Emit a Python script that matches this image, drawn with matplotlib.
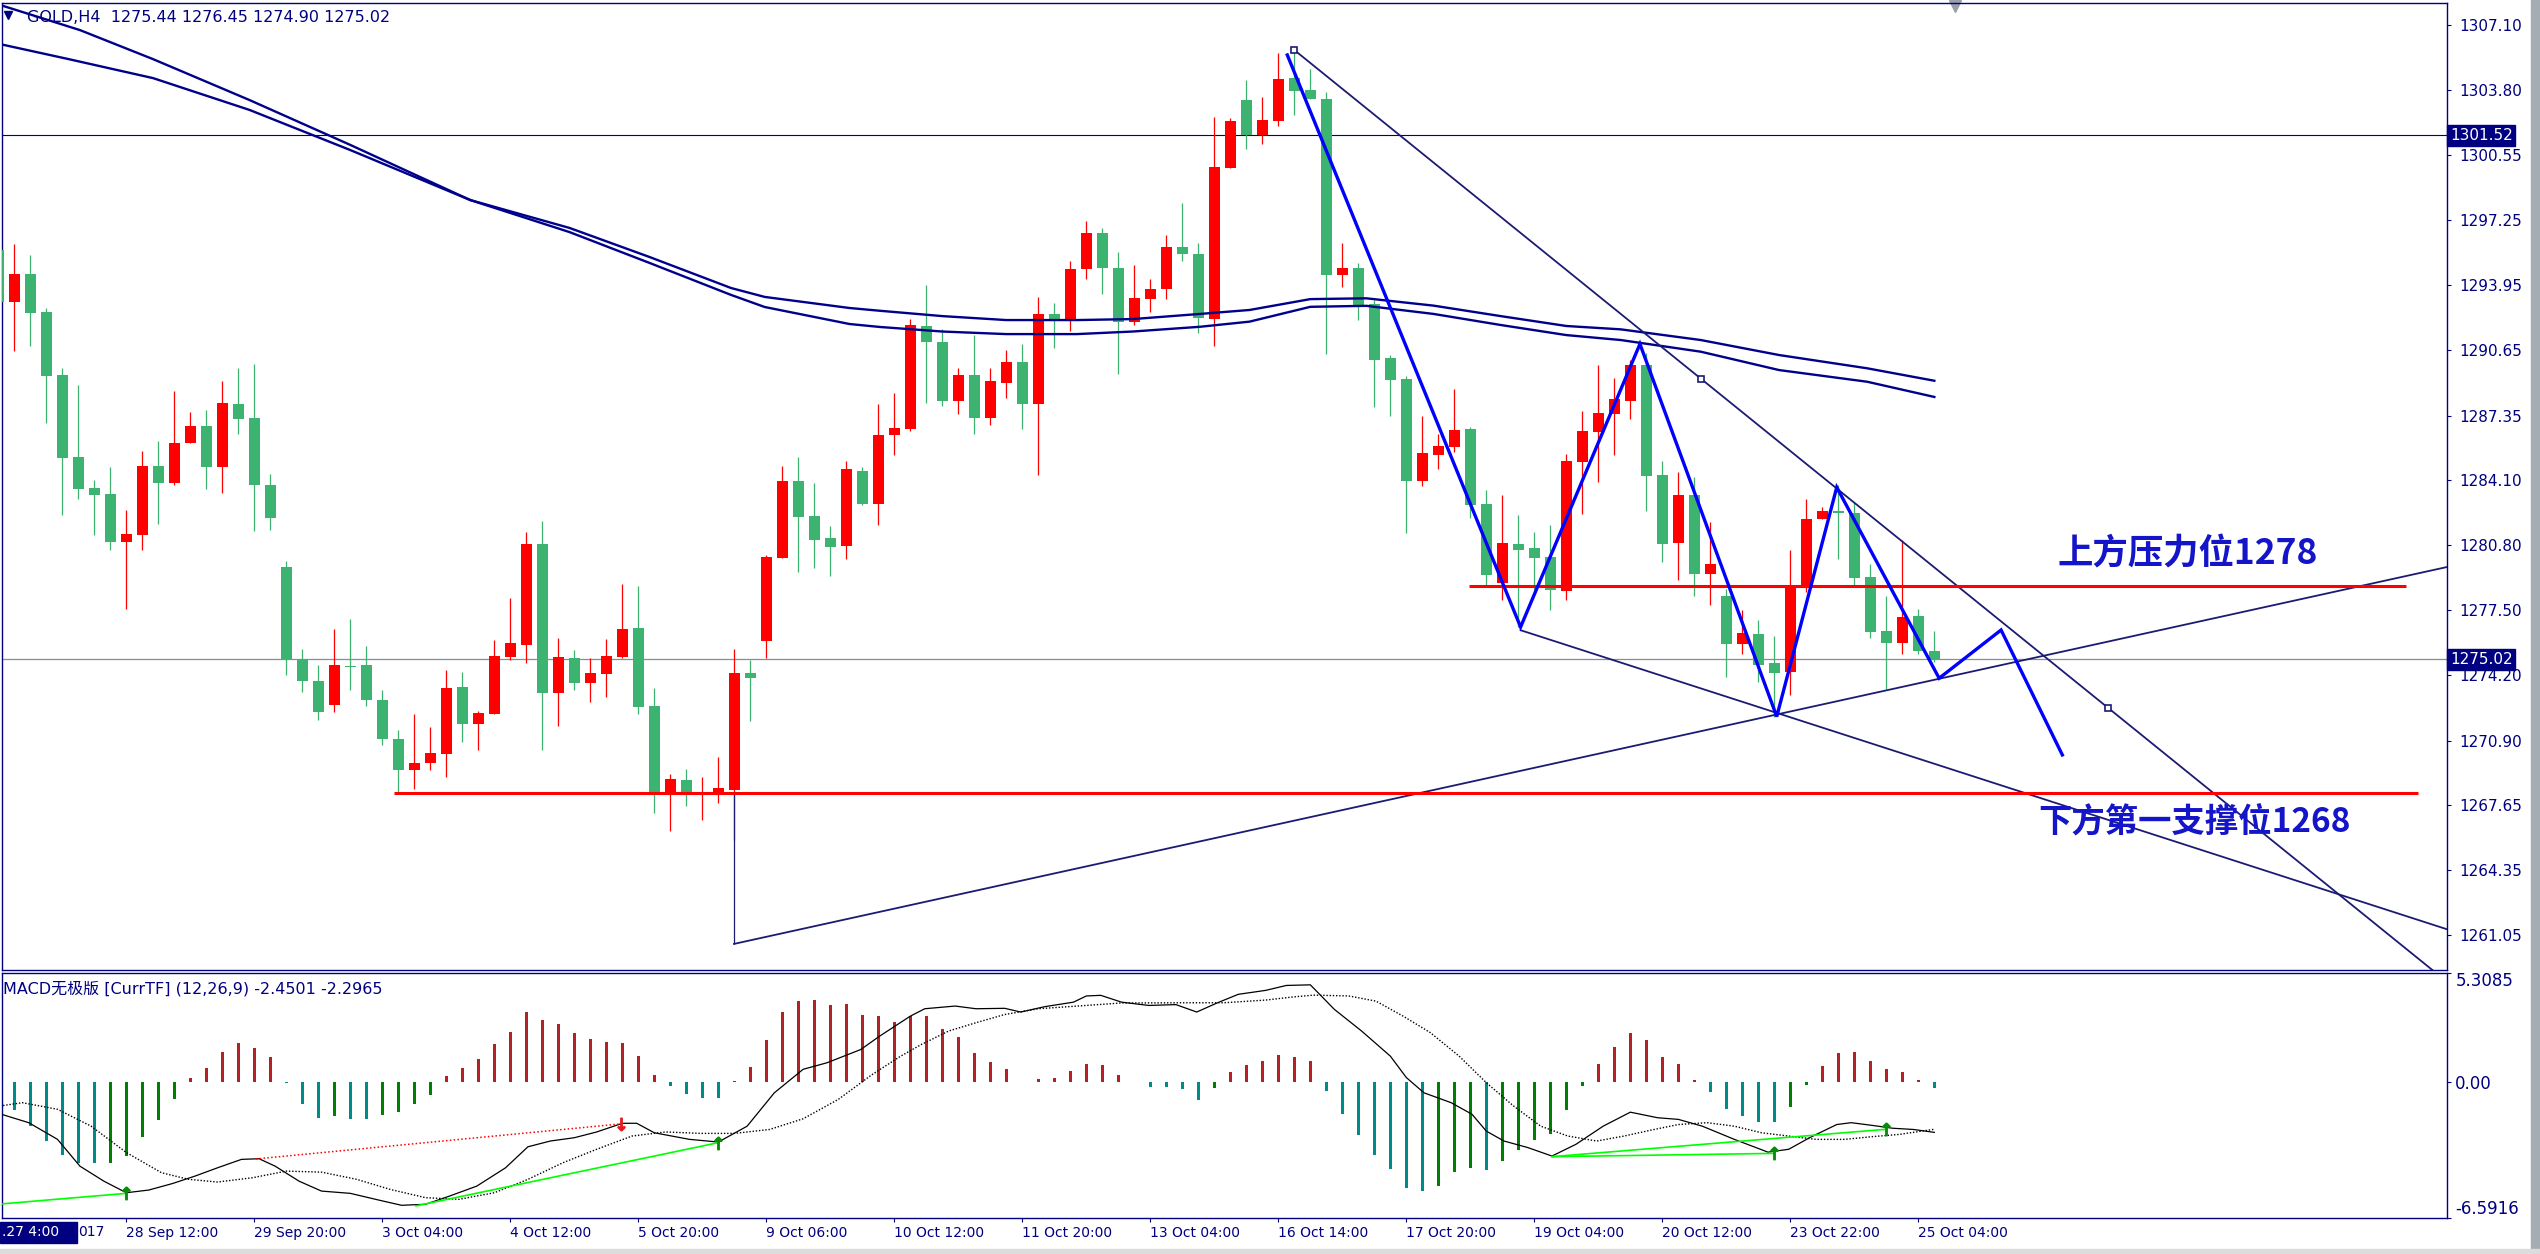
import matplotlib
matplotlib.use("Agg")
import matplotlib.pyplot as plt
import matplotlib.transforms as mtransforms
from matplotlib.patches import Rectangle
import numpy as np

W, H, DPI = 2540, 1254, 100

NAVY = "#000080"
UP = "#FF0000"
DN = "#3CB371"

# ---- GOLD H4 candles, bar index -1 .. 120 ----
opens = [1295.72, 1293.11, 1294.51, 1292.59, 1289.40, 1285.25, 1283.69, 1283.38, 1280.97, 1281.32,
         1284.80, 1283.95, 1285.98, 1286.82, 1284.76, 1287.93, 1287.23, 1283.84, 1279.69, 1275.02,
         1273.92, 1272.71, 1274.68, 1274.73, 1272.96, 1270.99, 1269.44, 1269.79, 1270.25, 1273.62,
         1271.76, 1272.27, 1275.15, 1275.76, 1280.85, 1273.33, 1275.09, 1273.84, 1274.29, 1275.15,
         1276.60, 1272.66, 1268.27, 1268.93, 1268.17, 1268.17, 1268.42, 1274.33, 1275.96, 1280.16,
         1284.04, 1282.27, 1281.16, 1280.77, 1284.55, 1282.89, 1286.37, 1286.67, 1291.86, 1291.09,
         1288.09, 1289.38, 1287.21, 1288.99, 1290.08, 1287.93, 1292.49, 1292.18, 1294.76, 1296.59,
         1294.82, 1292.07, 1293.26, 1293.77, 1295.88, 1295.52, 1292.23, 1299.86, 1303.31, 1301.54,
         1302.26, 1304.42, 1303.82, 1303.36, 1294.46, 1294.81, 1292.99, 1290.25, 1289.21, 1284.05,
         1285.35, 1285.76, 1286.67, 1282.89, 1278.88, 1280.85, 1280.65, 1280.21, 1278.48, 1285.02,
         1286.53, 1287.44, 1288.10, 1289.91, 1284.34, 1280.92, 1283.33, 1279.35, 1278.24, 1275.81,
         1276.32, 1274.85, 1274.39, 1278.73, 1282.10, 1282.52, 1282.42, 1279.18, 1276.45, 1275.86,
         1277.21, 1275.44]
highs = [1296.08, 1296.03, 1295.47, 1292.79, 1289.74, 1288.90, 1284.09, 1284.75, 1282.57, 1285.56,
         1286.06, 1288.59, 1287.53, 1287.63, 1289.10, 1289.75, 1289.96, 1284.39, 1279.99, 1275.54,
         1274.73, 1276.55, 1277.06, 1275.69, 1273.47, 1271.44, 1272.27, 1271.60, 1274.48, 1274.38,
         1272.41, 1276.00, 1278.12, 1281.46, 1282.02, 1276.10, 1275.49, 1275.09, 1276.05, 1278.83,
         1278.73, 1273.57, 1269.23, 1269.49, 1269.08, 1270.09, 1275.56, 1275.00, 1280.30, 1284.80,
         1285.25, 1283.94, 1281.76, 1285.05, 1284.75, 1287.91, 1288.47, 1292.23, 1293.95, 1291.73,
         1289.74, 1291.42, 1289.78, 1290.65, 1290.99, 1293.35, 1293.04, 1295.17, 1297.20, 1296.85,
         1295.64, 1294.97, 1294.26, 1296.50, 1298.11, 1296.08, 1302.43, 1302.42, 1304.32, 1303.46,
         1305.69, 1305.79, 1304.88, 1303.72, 1296.08, 1295.07, 1293.19, 1290.41, 1289.35, 1287.33,
         1286.42, 1288.69, 1286.77, 1283.58, 1283.33, 1282.32, 1281.46, 1281.81, 1285.40, 1287.58,
         1289.91, 1289.25, 1290.16, 1290.51, 1285.05, 1284.49, 1284.26, 1281.97, 1278.59, 1277.50,
         1277.01, 1276.21, 1280.55, 1283.13, 1282.71, 1283.84, 1282.98, 1279.84, 1278.24, 1281.06,
         1277.57, 1276.45]
lows = [1292.94, 1290.63, 1290.88, 1286.99, 1282.33, 1283.14, 1281.32, 1280.56, 1277.58, 1280.56,
        1281.88, 1283.85, 1285.98, 1283.65, 1283.45, 1286.43, 1281.53, 1281.58, 1274.24, 1273.38,
        1271.95, 1272.36, 1273.47, 1272.66, 1270.69, 1268.31, 1268.48, 1269.44, 1269.08, 1270.85,
        1270.45, 1272.27, 1275.00, 1274.85, 1270.45, 1271.66, 1273.48, 1272.88, 1273.13, 1275.10,
        1272.27, 1267.26, 1266.35, 1267.62, 1266.91, 1267.77, 1265.90, 1271.91, 1275.10, 1280.16,
        1279.45, 1279.65, 1279.25, 1280.11, 1282.82, 1281.81, 1285.35, 1286.57, 1287.98, 1287.83,
        1287.43, 1286.44, 1286.87, 1288.26, 1286.65, 1284.32, 1290.78, 1291.65, 1294.24, 1293.51,
        1289.45, 1291.91, 1292.60, 1293.26, 1295.19, 1291.53, 1290.88, 1299.86, 1300.83, 1301.09,
        1302.01, 1302.55, 1303.36, 1290.48, 1293.85, 1292.18, 1287.80, 1287.34, 1281.42, 1283.80,
        1284.66, 1285.51, 1282.18, 1278.78, 1278.02, 1276.65, 1278.53, 1277.51, 1278.02, 1282.39,
        1284.00, 1285.37, 1287.19, 1282.54, 1279.96, 1279.05, 1278.24, 1277.78, 1274.14, 1275.30,
        1273.89, 1272.12, 1273.23, 1278.42, 1282.10, 1280.11, 1278.74, 1276.11, 1273.53, 1275.30,
        1275.30, 1274.90]
closes = [1293.11, 1294.51, 1292.55, 1289.37, 1285.22, 1283.65, 1283.35, 1280.97, 1281.36, 1284.80,
          1283.95, 1285.96, 1286.82, 1284.76, 1287.98, 1287.19, 1283.85, 1282.18, 1275.02, 1273.92,
          1272.36, 1274.73, 1274.63, 1272.96, 1270.99, 1269.44, 1269.78, 1270.28, 1273.57, 1271.76,
          1272.30, 1275.19, 1275.85, 1280.85, 1273.33, 1275.14, 1273.84, 1274.33, 1275.19, 1276.55,
          1272.62, 1268.32, 1268.98, 1268.17, 1268.32, 1268.53, 1274.33, 1274.09, 1280.20, 1284.04,
          1282.23, 1281.07, 1280.72, 1284.65, 1282.89, 1286.37, 1286.72, 1291.93, 1291.09, 1288.09,
          1289.38, 1287.21, 1289.08, 1290.04, 1287.93, 1292.49, 1292.18, 1294.77, 1296.59, 1294.80,
          1292.07, 1293.28, 1293.75, 1295.88, 1295.50, 1292.28, 1299.91, 1302.25, 1301.54, 1302.30,
          1304.37, 1303.77, 1303.36, 1294.46, 1294.81, 1292.94, 1290.18, 1289.16, 1284.05, 1285.46,
          1285.81, 1286.62, 1282.84, 1279.28, 1280.92, 1280.55, 1280.14, 1278.53, 1285.05, 1286.57,
          1287.48, 1288.19, 1289.91, 1284.31, 1280.87, 1283.33, 1279.35, 1279.84, 1275.81, 1276.37,
          1274.75, 1274.34, 1278.73, 1282.12, 1282.52, 1282.41, 1279.15, 1276.42, 1275.86, 1277.16,
          1275.46, 1275.02]

# two moving averages, read at sample bars
ma1_k = [-0.89, 4.1, 8.67, 14.7, 21.0, 28.5, 34.7, 39.7, 44.8, 46.9, 52.2, 54.1, 58.0, 62.0,
         66.4, 69.9, 74.1, 77.2, 81.0, 84.5, 88.7, 92.9, 97.0, 100.4, 105.4, 110.3, 115.8, 120.0]
ma1_p = [1308.12, 1306.85, 1305.38, 1303.31, 1301.04, 1298.25, 1296.84, 1295.37, 1293.80, 1293.35,
         1292.79, 1292.65, 1292.38, 1292.18, 1292.18, 1292.23, 1292.49, 1292.69, 1293.24, 1293.28,
         1292.91, 1292.38, 1291.88, 1291.71, 1291.17, 1290.41, 1289.74, 1289.11]
ma2_k = [-0.89, 3.4, 8.67, 14.7, 21.0, 28.5, 34.7, 39.7, 44.8, 46.9, 52.2, 54.1, 58.0, 62.0,
         66.4, 69.9, 74.1, 77.2, 81.0, 84.5, 88.7, 92.9, 97.0, 100.4, 105.4, 110.3, 115.8, 120.0]
ma2_p = [1306.14, 1305.38, 1304.42, 1302.81, 1300.78, 1298.25, 1296.63, 1295.07, 1293.45, 1292.84,
         1291.98, 1291.83, 1291.60, 1291.47, 1291.47, 1291.60, 1291.84, 1292.10, 1292.85, 1292.90,
         1292.49, 1291.93, 1291.42, 1291.17, 1290.58, 1289.65, 1289.06, 1288.29]

# hand-drawn objects
zigzag_k = [79.56, 94.14, 101.6, 110.15, 113.9, 120.3, 124.17, 128.0]
zigzag_p = [1305.59, 1276.65, 1290.97, 1272.12, 1283.72, 1274.06, 1276.50, 1270.18]
upper_line = [(80.0, 1305.84), (130.86, 1272.56)]
rising_line = [(44.98, 1260.62), (110.17, 1272.23)]
lower_line = [(94.14, 1276.49), (111.17, 1272.04)]
resist_level, resist_from, resist_to = 1278.73, 90.9, 149.5
support_level, support_from, support_to = 1268.27, 23.7, 150.2
bid_price = 1275.02
hline_price = 1301.52

price_ticks = [1307.10, 1303.80, 1300.55, 1297.25, 1293.95, 1290.65, 1287.35, 1284.10,
               1280.80, 1277.50, 1274.20, 1270.90, 1267.65, 1264.35, 1261.05]
time_ticks = [7, 15, 23, 31, 39, 47, 55, 63, 71, 79, 87, 95, 103, 111, 119]
time_labels = ["28 Sep 12:00", "29 Sep 20:00", "3 Oct 04:00", "4 Oct 12:00", "5 Oct 20:00",
               "9 Oct 06:00", "10 Oct 12:00", "11 Oct 20:00", "13 Oct 04:00", "16 Oct 14:00",
               "17 Oct 20:00", "19 Oct 04:00", "20 Oct 12:00", "23 Oct 22:00", "25 Oct 04:00"]

# ---- MACD (12,26,9), bars 0 .. 120 ----
macd_hist = [-1.37, -2.15, -2.89, -3.55, -3.95, -3.96, -3.94, -3.60, -2.68, -1.85, -0.85,
             0.17, 0.67, 1.43, 1.87, 1.63, 1.19,
             -0.04, -1.05, -1.73, -1.65, -1.81, -1.82, -1.63, -1.48, -1.09, -0.65,
             0.29, 0.67, 1.11, 1.82, 2.41, 3.37, 2.99, 2.81, 2.35, 2.07, 1.93, 1.87, 1.27, 0.31,
             -0.21, -0.61, -0.79, -0.80,
             0.04, 0.71, 2.03, 3.39, 3.91, 3.95, 3.71, 3.76, 3.27, 3.18, 2.91, 3.18, 3.18, 2.59,
             2.16, 1.39, 0.95, 0.61, 0.01, 0.13, 0.17, 0.51, 0.85, 0.80, 0.31,
             -0.03, -0.25, -0.27, -0.35, -0.89, -0.30,
             0.46, 0.80, 0.99, 1.29, 1.23, 0.99,
             -0.45, -1.56, -2.58, -3.55, -4.23, -5.15, -5.30, -5.06, -4.38, -4.18, -4.28, -3.84,
             -3.31, -2.83, -2.53, -1.37, -0.21,
             0.85, 1.67, 2.35, 2.01, 1.23, 0.89, 0.09,
             -0.49, -1.32, -1.66, -1.95, -1.97, -1.22, -0.13,
             0.75, 1.39, 1.43, 0.99, 0.61, 0.46, 0.07,
             -0.31]
dif_k = [-0.9, 0.9, 2.7, 4.1, 5.6, 7.0, 8.4, 9.9, 11.3, 12.7, 14.2, 15.3, 16.3, 17.8, 19.2, 21.0,
         22.8, 24.2, 25.7, 27.1, 28.9, 30.7, 32.1, 33.5, 35.0, 36.4, 38.0, 38.9, 40.0, 42.2, 44.0,
         45.8, 47.5, 49.3, 50.8, 52.9, 54.1, 56.0, 56.9, 58.8, 60.1, 61.9, 62.9, 64.4, 66.2, 67.0,
         67.9, 69.2, 70.9, 72.6, 73.9, 75.2, 76.5, 78.2, 79.5, 81.0, 82.5, 84.2, 86.0, 87.0, 88.1,
         89.8, 91.1, 92.0, 93.1, 94.6, 96.1, 97.6, 99.3, 101.0, 102.7, 104.0, 105.5, 107.5, 109.6,
         110.9, 112.2, 113.9, 114.8, 116.1, 117.4, 118.7, 120.0]
dif_v = [-1.55, -1.98, -2.79, -4.09, -4.82, -5.38, -5.25, -4.93, -4.57, -4.17, -3.76, -3.73,
         -4.09, -4.82, -5.30, -5.41, -5.74, -5.99, -5.94, -5.57, -5.06, -4.17, -3.15, -2.87,
         -2.71, -2.43, -2.01, -2.01, -2.47, -2.79, -2.92, -2.15, -0.53, 0.61, 0.93, 1.57, 2.23,
         3.19, 3.55, 3.68, 3.55, 3.57, 3.39, 3.65, 3.87, 4.17, 4.20, 3.87, 3.71, 3.75, 3.39,
         3.84, 4.25, 4.44, 4.68, 4.71, 3.52, 2.47, 1.25, 0.21, -0.53, -1.01, -1.57, -2.39,
         -2.87, -3.19, -3.60, -3.03, -2.15, -1.47, -1.74, -1.82, -2.15, -2.79, -3.41, -3.27,
         -2.71, -2.07, -1.98, -2.11, -2.25, -2.31, -2.45]
dea_k = [-0.9, 0.5, 2.7, 4.8, 7.0, 9.2, 10.9, 12.7, 14.9, 17.0, 19.2, 21.4, 23.5, 25.7, 27.8,
         30.0, 32.1, 34.3, 36.4, 38.6, 40.7, 42.9, 45.0, 47.2, 49.3, 51.5, 53.6, 55.4, 56.7,
         58.4, 60.1, 61.9, 64.0, 67.0, 69.2, 73.5, 75.6, 78.2, 79.9, 81.2, 83.4, 85.1, 86.8,
         88.5, 90.3, 92.0, 93.7, 95.4, 97.1, 98.9, 100.6, 102.3, 104.0, 105.8, 107.5, 109.2,
         110.9, 112.6, 114.4, 116.1, 117.8, 120.0]
dea_v = [-1.17, -1.01, -1.33, -2.15, -3.43, -4.41, -4.73, -4.86, -4.65, -4.33, -4.38, -4.73,
         -5.22, -5.62, -5.70, -5.38, -4.73, -3.92, -3.27, -2.63, -2.43, -2.50, -2.50, -2.31,
         -1.79, -0.85, 0.35, 1.25, 1.82, 2.47, 2.87, 3.27, 3.55, 3.71, 3.83, 3.84, 3.84, 3.97,
         4.12, 4.21, 4.17, 3.92, 3.19, 2.39, 1.25, -0.04, -1.17, -2.15, -2.63, -2.87, -2.63,
         -2.34, -2.07, -1.98, -2.15, -2.47, -2.63, -2.79, -2.79, -2.66, -2.55, -2.30]
bull_div = [((-0.9, 7.0), (-5.93, -5.41)), ((25.1, 44.0), (-6.02, -2.95)),
            ((96.1, 110.0), (-3.63, -3.47)), ((96.1, 117.0), (-3.63, -2.30))]
bear_div = ((15.1, 37.9), (-3.74, -2.04))
up_arrows_k = [7.0, 44.0, 110.0, 117.0]
up_arrows_v = [-5.41, -2.95, -3.47, -2.30]
macd_top, macd_bottom = 5.3085, -6.5916

# ---- layout in pixels of the 2540x1254 picture ----
def fx(px):
    return px / W

def fy(py):
    return 1 - py / H

fig = plt.figure(figsize=(W / DPI, H / DPI), dpi=DPI, facecolor="white")
ax = fig.add_axes([fx(2), fy(970), fx(2447) - fx(2), fy(3) - fy(970)])
ax2 = fig.add_axes([fx(2), fy(1217.7), fx(2447) - fx(2), fy(972.5) - fy(1217.7)])
xlim = (-0.77, 152.04)

for a in (ax, ax2):
    for s in a.spines.values():
        s.set_color(NAVY)
        s.set_linewidth(1.0)
    a.set_xlim(*xlim)

# candles
o, hi, lo, c = map(np.array, (opens, highs, lows, closes))
k = np.arange(len(o)) - 1
col = np.where(c >= o, UP, DN)
ax.vlines(k, lo, hi, colors=col, lw=0.9, zorder=3)
ax.bar(k, np.maximum(np.abs(c - o), 0.06), bottom=np.minimum(o, c), width=0.69,
       color=col, lw=0, zorder=4)

ax.axhline(hline_price, color=NAVY, lw=0.8, zorder=2)
ax.axhline(bid_price, color="#878C96", lw=0.9, zorder=2)

ax.plot(ma1_k, ma1_p, color="#00008B", lw=1.7, zorder=5)
ax.plot(ma2_k, ma2_p, color="#00008B", lw=1.7, zorder=5)


def ray(pts):
    (k0, p0), (k1, p1) = pts
    slope = (p1 - p0) / (k1 - k0)
    return [k0, xlim[1]], [p0, p0 + slope * (xlim[1] - k0)]


TL = "#1B1B72"
for pts in (upper_line, rising_line, lower_line):
    xs, ys = ray(pts)
    ax.plot(xs, ys, color=TL, lw=1.3, zorder=6)
(k0, p0), (k1, p1) = upper_line
ax.plot([k0, (k0 + k1) / 2, k1], [p0, (p0 + p1) / 2, p1], ls="none", marker="s", ms=4,
        mfc="white", mec=TL, mew=1.2, zorder=7)
ax.vlines(rising_line[0][0], rising_line[0][1], support_level, color=TL, lw=0.9, zorder=6)

ax.hlines(resist_level, resist_from, resist_to, color=UP, lw=2.2, zorder=6)
ax.hlines(support_level, support_from, support_to, color=UP, lw=2.2, zorder=6)
ax.plot(zigzag_k, zigzag_p, color="#0000FF", lw=2.4, zorder=8, solid_joinstyle="miter")

cjk = ["Noto Sans CJK SC", "DejaVu Sans"]
ax.text(127.7, 1280.35, "上方压力位1278", color="#1414C8", fontsize=25.5, fontweight="bold",
        family=cjk, va="center", ha="left", zorder=9)
ax.text(126.5, 1266.74, "下方第一支撑位1268", color="#1414C8", fontsize=24, fontweight="bold",
        family=cjk, va="center", ha="left", zorder=9)

ax.set_ylim(1259.30, 1308.22)
ax.yaxis.tick_right()
ax.set_yticks(price_ticks)
ax.set_yticklabels([f"{v:.2f}" for v in price_ticks])
ax.tick_params(axis="y", colors=NAVY, labelcolor=NAVY, labelsize=11, length=3, pad=6)
ax.tick_params(axis="x", length=0, labelbottom=False)

ymix = mtransforms.blended_transform_factory(ax.transAxes, ax.transData)
for v in (hline_price, bid_price):
    ax.text(1.0012, v, f"{v:.2f}", transform=ymix, color="white", fontsize=11,
            va="center", ha="left", zorder=10,
            bbox=dict(boxstyle="square,pad=0.18", fc=NAVY, ec=NAVY))

ax.text(0.0102, 0.9845, "GOLD,H4  1275.44 1276.45 1274.90 1275.02", transform=ax.transAxes,
        color=NAVY, fontsize=11.5, va="center", ha="left")
ax.plot([0.0025], [0.9875], marker="v", ms=6, color=NAVY, transform=ax.transAxes, clip_on=False)
ax.plot([0.7988], [0.9965], marker="v", ms=9, color="#9AA0A8", transform=ax.transAxes,
        clip_on=False)

# MACD panel
hist = np.array(macd_hist)
hk = np.arange(len(hist))
prev = np.concatenate([[0.0], hist[:-1]])
hcol = np.where(hist > 0, "#B22222", np.where(hist < prev, "#008B8B", "#008000"))
ax2.bar(hk, hist, width=0.21, color=hcol, lw=0, zorder=3)
ax2.plot(dif_k, dif_v, color="black", lw=0.9, zorder=4)
ax2.plot(dea_k, dea_v, color="black", lw=1.0, ls=(0, (1, 1.3)), zorder=4)
for xs, ys in bull_div:
    ax2.plot(xs, ys, color="#00FF00", lw=1.2, zorder=5)
ax2.plot(bear_div[0], bear_div[1], color="#FF0000", lw=1.1, ls=(0, (1, 1.5)), zorder=5)
ax2.plot(up_arrows_k, up_arrows_v, ls="none", marker=r"$\uparrow$", ms=9, color="#0A8A0A",
         zorder=6)
ax2.plot([bear_div[0][1]], [bear_div[1][1]], ls="none", marker=r"$\downarrow$", ms=9,
         color="#E02020", zorder=6)

ax2.set_ylim(macd_bottom, macd_top)
ax2.yaxis.tick_right()
ax2.set_yticks([macd_bottom, 0.0, macd_top])
ax2.set_yticklabels([f"{macd_bottom:.4f}", "0.00", f"{macd_top:.4f}"])
ax2.tick_params(axis="y", colors=NAVY, labelcolor=NAVY, labelsize=12, length=3, pad=3)
lbls = ax2.get_yticklabels()
lbls[0].set_verticalalignment("bottom")
lbls[2].set_verticalalignment("top")

ax2.set_xticks(time_ticks)
ax2.set_xticklabels(time_labels)
ax2.tick_params(axis="x", colors=NAVY, labelcolor=NAVY, labelsize=10, length=3, pad=3)
for t in ax2.get_xticklabels():
    t.set_horizontalalignment("left")

ax2.text(0.0005, 0.935, "MACD无极版 [CurrTF] (12,26,9) -2.4501 -2.2965", transform=ax2.transAxes,
         color=NAVY, fontsize=11.5, family=["DejaVu Sans", "Noto Sans CJK SC"], va="center",
         ha="left")

# first date label is mostly hidden behind the cursor date box; only its tail shows
fig.patches.append(Rectangle((0, fy(1243)), fx(77), fy(1222) - fy(1243),
                             transform=fig.transFigure, color=NAVY, zorder=5))
fig.text(fx(2), fy(1232.5), ".27 4:00", color="white", fontsize=10, va="center", ha="left",
         zorder=6)
fig.text(fx(78), fy(1232.5), "017", color=NAVY, fontsize=10, va="center", ha="left")

# window frame bits at the right and bottom edges
fig.patches.append(Rectangle((fx(2531), 0), 1 - fx(2531), 1, transform=fig.transFigure,
                             color="#A5ADB4", zorder=0))
fig.patches.append(Rectangle((0, 0), 1, fy(1249), transform=fig.transFigure,
                             color="#DCDCDC", zorder=0))

fig.savefig("out.png", dpi=DPI, facecolor="white")
